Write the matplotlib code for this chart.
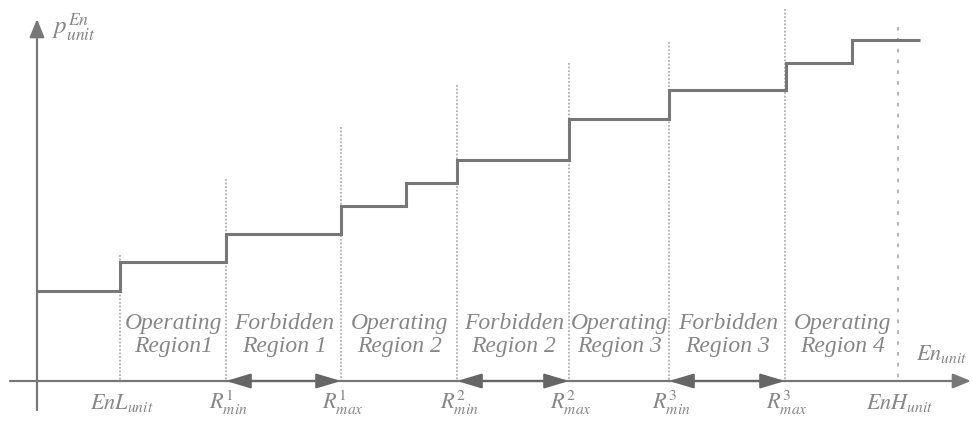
import matplotlib.pyplot as plt

plt.rcParams['mathtext.fontset'] = 'stix'

# step curve of p_unit^En (picture units, y down)
step_edges = [37, 120, 226, 341, 406, 457, 569, 669, 786, 852, 920]
step_levels = [291, 262, 234, 206, 183, 160, 119, 90, 63, 40]

# region boundaries on the En axis and how high their guide lines reach
bound_x = [120, 226, 341, 457, 569, 669, 785, 898]
bound_top = [255, 179, 127, 85, 63, 42, 9, 27]
bound_labels = [r"$EnL_{unit}$", r"$R^1_{min}$", r"$R^1_{max}$", r"$R^2_{min}$",
                r"$R^2_{max}$", r"$R^3_{min}$", r"$R^3_{max}$", r"$EnH_{unit}$"]

region_labels = ["Operating\nRegion1", "Forbidden\nRegion 1", "Operating\nRegion 2",
                 "Forbidden\nRegion 2", "Operating\nRegion 3", "Forbidden\nRegion 3",
                 "Operating\nRegion 4"]

axis_y = 381
axis_x = 37
grey = "#777777"
light = "#b0b0b0"
txt = "#868686"

fig = plt.figure(figsize=(9.72, 4.21), dpi=100)
ax = fig.add_axes([0, 0, 1, 1])
ax.set_xlim(0, 972)
ax.set_ylim(421, 0)
ax.axis("off")

# axes with arrows
ax.annotate("", xy=(971, axis_y), xytext=(10, axis_y),
            arrowprops=dict(arrowstyle="-|>,head_length=1.1,head_width=0.45",
                            color=grey, lw=1.6, shrinkA=0, shrinkB=0))
ax.annotate("", xy=(axis_x, 19), xytext=(axis_x, 410),
            arrowprops=dict(arrowstyle="-|>,head_length=1.1,head_width=0.45",
                            color=grey, lw=1.6, shrinkA=0, shrinkB=0))

# boundary guide lines
for i, (x, top) in enumerate(zip(bound_x, bound_top)):
    ls = (0, (2, 4)) if i == len(bound_x) - 1 else (0, (1, 1))
    ax.plot([x, x], [top, axis_y], color=light, lw=1.3, ls=ls, zorder=1)
    ax.text(x + 2, 403, bound_labels[i], ha="center", va="center",
            fontsize=16, color=txt)

# the step curve
ax.stairs(step_levels, step_edges, baseline=None, color=grey, lw=2.2, zorder=3)

# double arrows across forbidden regions
for k in range(3):
    x0 = bound_x[1 + 2 * k]
    x1 = bound_x[2 + 2 * k]
    ax.annotate("", xy=(x0, axis_y), xytext=(x1, axis_y),
                arrowprops=dict(arrowstyle="<|-|>,head_length=1.5,head_width=0.45",
                                color="#666666", lw=1.6, shrinkA=0, shrinkB=0),
                zorder=4)

# region names
for i, name in enumerate(region_labels):
    cx = (bound_x[i] + bound_x[i + 1]) / 2
    ax.text(cx + 1, 335, name, ha="center", va="center", fontsize=17,
            family="Liberation Serif", style="italic", color=txt,
            linespacing=1.08)

ax.text(916, 354, r"$En_{unit}$", ha="left", va="center", fontsize=16, color=txt)
ax.text(52, 28, r"$p_{unit}^{En}$", ha="left", va="center", fontsize=18, color=txt)

fig.savefig("out.png", dpi=100)
